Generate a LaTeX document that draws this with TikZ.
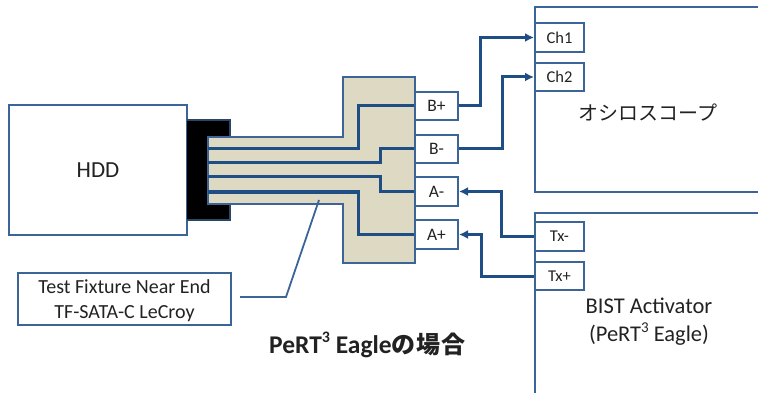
\documentclass[tikz,border=0pt]{standalone}
\usepackage{fontspec}
\setmainfont{Carlito}
\newfontfamily\cjk{Noto Sans CJK JP}
\newfontfamily\cjkbold{Noto Sans CJK JP Bold}
\usetikzlibrary{arrows.meta}
\definecolor{outline}{HTML}{3A6596}
\definecolor{wire}{HTML}{1F4E85}
\definecolor{fixture}{HTML}{DDD9C3}
\definecolor{inktext}{HTML}{222222}
\newcommand{\supthree}[1]{\raisebox{.42em}{\fontsize{#1}{#1}\selectfont 3}}
\tikzset{
  outl/.style={draw=outline,line width=2pt},
  port/.style={outl,fill=white,minimum width=43pt,minimum height=28.5pt,inner sep=0pt,font=\fontsize{17.5}{17.5}\selectfont,text=inktext},
  iport/.style={port,minimum width=49pt,font=\fontsize{16.5}{16.5}\selectfont},
  wireline/.style={draw=wire,line width=3pt},
  link/.style={draw=wire,line width=3pt,-{Latex[length=9pt,width=9pt]}},
  label/.style={text=inktext,align=center,inner sep=0pt}
}
\begin{document}
\begin{tikzpicture}[x=1pt,y=-1pt]
\useasboundingbox (0,0) rectangle (758,393);
% boxes
\node[outl,fill=white,minimum width=178pt,minimum height=130pt,inner sep=0pt,font=\fontsize{23}{23}\selectfont,text=inktext] (hdd) at (98,170) {HDD};
\path[outl,line join=miter] (760,7) -- (535,7) -- (535,192) -- (760,192);
\path[outl,line join=miter] (760,213) -- (535,213) -- (535,395);
\fill[black] (187,120) -- (230,120) -- (230,137) -- (208,137) -- (208,204) -- (230,204) -- (230,220) -- (187,220) -- cycle;
\draw[outline!70!black,line width=1.6pt] (187,120) -- (230,120) -- (230,137) (230,204) -- (230,220) -- (187,220);
\path[outl,fill=fixture] (208,137) -- (343,137) -- (343,77) -- (415,77) -- (415,263) -- (343,263) -- (343,204) -- (208,204) -- cycle;
% ports
\node[port] (bp) at (436.5,106) {B+};
\node[port] (bm) at (436.5,149) {B-};
\node[port] (am) at (436.5,191.5) {A-};
\node[port] (ap) at (436.5,234.5) {A+};
\node[iport] (ch1) at (559.5,37.5) {Ch1};
\node[iport] (ch2) at (559.5,77) {Ch2};
\node[iport] (txm) at (559.5,236.5) {Tx-};
\node[iport] (txp) at (559.5,276) {Tx+};
% fixture traces
\coordinate (l1) at (208,149);
\coordinate (l2) at (208,163);
\coordinate (l3) at (208,177);
\coordinate (l4) at (208,192);
\draw[wireline] (bp.west) -- (358,106) -- (358,149) -- (l1);
\draw[wireline] (bm.west) -- (380,149) -- (380,163) -- (l2);
\draw[wireline] (am.west) -- (380,191.5) -- (380,177) -- (l3);
\draw[wireline] (ap.west) -- (358,234.5) -- (358,192) -- (l4);
% links
\draw[link] (bp.east) -- (480,106) |- (ch1.west);
\draw[link] (bm.east) -- (502,149) |- (ch2.west);
\draw[link] (txm.west) -- (501,236.5) |- (am.east);
\draw[link] (txp.west) -- (481,276) |- (ap.east);
% labels
\node[label,font={\fontsize{20}{20}\selectfont\cjk}] (scope) at (648,113) {オシロスコープ};
\node[label,font=\fontsize{22.5}{28}\selectfont] (bist) at (649,322) {BIST Activator\\(PeRT\supthree{15} Eagle)};
\node[outl,fill=white,minimum width=213pt,minimum height=52pt,inner sep=0pt] (tf) at (124.5,299) {};
\node[label,font=\fontsize{20}{25}\selectfont] (tftext) at (124.5,301) {Test Fixture Near End\\TF-SATA-C LeCroy};
\coordinate (lead0) at (240,297);
\coordinate (lead1) at (286,297);
\coordinate (lead2) at (319,200);
\draw[outl,line width=1.8pt] (lead0) -- (lead1) -- (lead2);
\node[label,anchor=west,font=\fontsize{25.5}{25.5}\selectfont\bfseries] (title) at (269,345) {PeRT\supthree{16} Eagle{\cjkbold\fontsize{24}{24}\selectfont の\hspace{1pt}場\hspace{1pt}合}};
\end{tikzpicture}
\end{document}
